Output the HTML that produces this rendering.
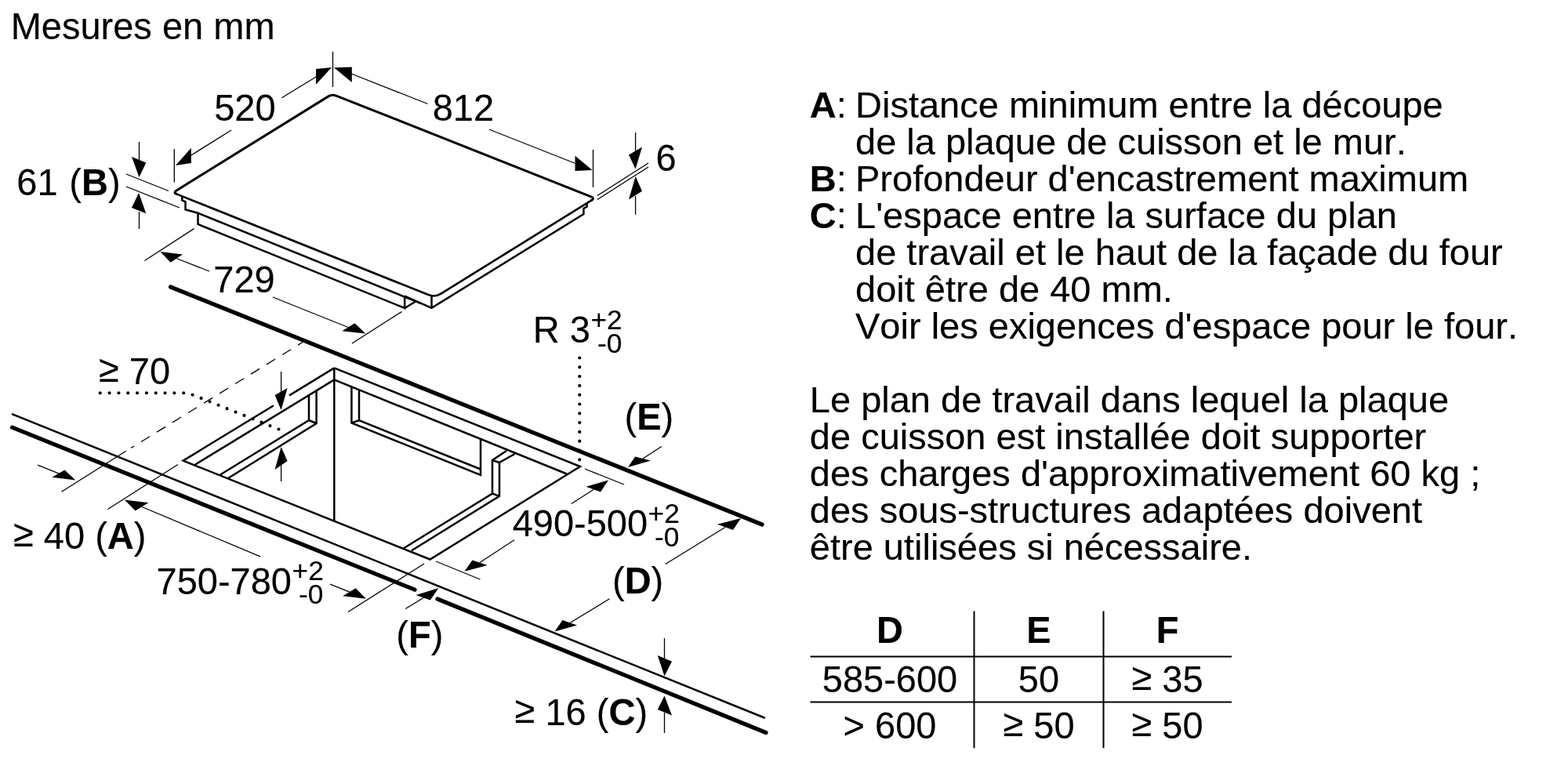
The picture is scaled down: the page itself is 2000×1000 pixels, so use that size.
<!DOCTYPE html>
<html lang="fr">
<head>
<meta charset="utf-8">
<title>Mesures en mm</title>
<style>
html,body{margin:0;padding:0;background:#fff;}
html{filter:grayscale(1);}
body{width:2000px;height:1000px;position:relative;overflow:hidden;font-family:"Liberation Sans",Arial,Helvetica,sans-serif;color:#000;font-kerning:none;}
svg{position:absolute;left:0;top:0;}
svg text{font-family:"Liberation Sans",Arial,Helvetica,sans-serif;fill:#000;stroke:#000;stroke-width:0.15px;font-kerning:none;}
.t{position:absolute;white-space:nowrap;margin:0;-webkit-text-stroke:0.15px #000;}
.t.c{width:400px;text-align:center;}
.t.v{transform:scaleY(1.03);transform-origin:50% 39.8px;}
table.dims,table.dims tbody,table.dims tr{display:block;margin:0;padding:0;border:0;}
table.dims th,table.dims td{display:block;padding:0;border:0;font-weight:normal;}
table.dims th{font-weight:bold;}
.ge{position:relative;top:-2.6px;}
</style>
</head>
<body>
<svg width="2000" height="1000" viewBox="0 0 2000 1000" stroke="#000" fill="none">
<path d="M 754.23,255.70 L 562.45,374.66 Q 554.80,379.40 546.44,376.06 L 225.53,247.63" stroke-width="2.6" fill="none" stroke-linecap="round"/>
<path d="M 225.53,247.63 Q 220.70,245.70 225.12,242.96 L 418.92,122.90 Q 423.60,120.00 428.71,122.03 L 753.79,250.77 Q 758.90,252.80 754.23,255.70" stroke-width="3.0" fill="none" stroke-linecap="round" stroke-linejoin="round"/>
<polyline points="232.3,250 232.3,255.5 236.5,257.3 236.5,267.3 252.5,271.8 252.5,286 516.2,393 516.2,377.5" stroke-width="2.5" stroke-linejoin="miter" stroke-linecap="butt" fill="none" />
<polyline points="252.5,271.8 536.5,386.9" stroke-width="2.5" stroke-linejoin="miter" stroke-linecap="butt" fill="none" />
<polyline points="516.2,377.7 550.5,392.9 744.4,273 744.4,266 748.6,263.5 748.6,259" stroke-width="2.5" stroke-linejoin="miter" stroke-linecap="butt" fill="none" />
<line x1="550.5" y1="377.3" x2="550.5" y2="393" stroke-width="2.5" stroke-linecap="butt" />
<line x1="516.2" y1="393" x2="531" y2="384" stroke-width="2.5" stroke-linecap="butt" />
<line x1="217.5" y1="366" x2="972" y2="669" stroke-width="5.2" stroke-linecap="round" />
<line x1="16" y1="528.3" x2="975" y2="915.5" stroke-width="2.5" stroke-linecap="round" />
<line x1="15.5" y1="545.2" x2="529" y2="752.2" stroke-width="5.2" stroke-linecap="round" />
<line x1="558" y1="764" x2="977" y2="934.5" stroke-width="5.2" stroke-linecap="round" />
<polyline points="426.3,469.4 369,504.4" stroke-width="2.5" stroke-linejoin="miter" stroke-linecap="butt" fill="none" />
<polyline points="349,517.2 233.6,587.6 548.5,713.5 740,595 426.3,469.4" stroke-width="2.5" stroke-linejoin="miter" stroke-linecap="butt" fill="none" />
<line x1="426.3" y1="469.4" x2="426.3" y2="664.5" stroke-width="2.5" stroke-linecap="butt" />
<polyline points="426.3,484.4 248,593.2" stroke-width="2.5" stroke-linejoin="miter" stroke-linecap="butt" fill="none" />
<polyline points="426.3,484.4 723,604.5" stroke-width="2.5" stroke-linejoin="miter" stroke-linecap="butt" fill="none" />
<polyline points="394,503.5 394,536 281,605.5" stroke-width="2.5" stroke-linejoin="miter" stroke-linecap="butt" fill="none" />
<polyline points="403.6,498 403.6,540 291,610" stroke-width="2.5" stroke-linejoin="miter" stroke-linecap="butt" fill="none" />
<line x1="394" y1="536" x2="403.6" y2="540" stroke-width="2.5" stroke-linecap="butt" />
<polyline points="448.4,493.5 448.4,539.4 613,606 613,560" stroke-width="2.5" stroke-linejoin="miter" stroke-linecap="butt" fill="none" />
<polyline points="458,497.5 458,536.2 613,598.5" stroke-width="2.5" stroke-linejoin="miter" stroke-linecap="butt" fill="none" />
<line x1="448.4" y1="539.4" x2="458" y2="536.2" stroke-width="2.5" stroke-linecap="butt" />
<polyline points="646,575 628,587 628,629.5 515,699.3" stroke-width="2.5" stroke-linejoin="miter" stroke-linecap="butt" fill="none" />
<polyline points="656.5,579 637,590 637,632.8 525,702.3" stroke-width="2.5" stroke-linejoin="miter" stroke-linecap="butt" fill="none" />
<line x1="628" y1="587" x2="637" y2="590" stroke-width="2.5" stroke-linecap="butt" />
<line x1="628" y1="629.5" x2="637" y2="632.8" stroke-width="2.5" stroke-linecap="butt" />
<line x1="424.5" y1="66" x2="424.5" y2="111" stroke-width="1.3" stroke-linecap="butt" />
<line x1="359.4" y1="124.8" x2="404" y2="97.5" stroke-width="1.3" stroke-linecap="butt" />
<polygon points="423,86 403,88 403,107.8" fill="#000" stroke="none"/>
<line x1="448" y1="94" x2="545.6" y2="132.5" stroke-width="1.3" stroke-linecap="butt" />
<polygon points="426,86.2 448.8,85.4 448.8,105" fill="#000" stroke="none"/>
<line x1="222.3" y1="190" x2="222.3" y2="232.5" stroke-width="1.3" stroke-linecap="butt" />
<line x1="295" y1="166" x2="243" y2="198.5" stroke-width="1.3" stroke-linecap="butt" />
<polygon points="224,211 243.8,188.8 243.8,208" fill="#000" stroke="none"/>
<line x1="756.5" y1="191" x2="756.5" y2="238.8" stroke-width="1.3" stroke-linecap="butt" />
<line x1="623.8" y1="165" x2="734" y2="208.5" stroke-width="1.3" stroke-linecap="butt" />
<polygon points="755.6,217 733.5,198.8 733.5,218" fill="#000" stroke="none"/>
<line x1="161" y1="222" x2="215" y2="243.5" stroke-width="1.3" stroke-linecap="butt" />
<line x1="161" y1="238" x2="229" y2="265" stroke-width="1.3" stroke-linecap="butt" />
<line x1="177.5" y1="181" x2="177.5" y2="205" stroke-width="1.3" stroke-linecap="butt" />
<polygon points="177.5,226 168,200 186.3,207.5" fill="#000" stroke="none"/>
<line x1="177.5" y1="270" x2="177.5" y2="292" stroke-width="1.3" stroke-linecap="butt" />
<polygon points="177,246 168,265 186.3,272.3" fill="#000" stroke="none"/>
<line x1="762" y1="249.4" x2="827" y2="208" stroke-width="1.3" stroke-linecap="butt" />
<line x1="762" y1="254.4" x2="827" y2="213" stroke-width="1.3" stroke-linecap="butt" />
<line x1="810.6" y1="169" x2="810.6" y2="193" stroke-width="1.3" stroke-linecap="butt" />
<polygon points="810.6,215.6 802,197.5 819,187.5" fill="#000" stroke="none"/>
<line x1="810.6" y1="250" x2="810.6" y2="273.8" stroke-width="1.3" stroke-linecap="butt" />
<polygon points="810.6,225 802,254.4 819,243.8" fill="#000" stroke="none"/>
<line x1="247.5" y1="291.6" x2="184.4" y2="332.5" stroke-width="1.3" stroke-linecap="butt" />
<line x1="512.5" y1="397.5" x2="449" y2="438" stroke-width="1.3" stroke-linecap="butt" />
<line x1="267" y1="346" x2="225" y2="329.5" stroke-width="1.3" stroke-linecap="butt" />
<polygon points="204.4,321 233,324.4 217.5,334.8" fill="#000" stroke="none"/>
<line x1="348" y1="379" x2="444" y2="417.5" stroke-width="1.3" stroke-linecap="butt" />
<polygon points="466.3,425.6 436.3,422.3 452.5,412.3" fill="#000" stroke="none"/>
<line x1="358.6" y1="474" x2="358.6" y2="500" stroke-width="1.3" stroke-linecap="butt" />
<polygon points="358.6,523 350.6,504 366.6,495" fill="#000" stroke="none"/>
<line x1="358.6" y1="593" x2="358.6" y2="614" stroke-width="1.3" stroke-linecap="butt" />
<polygon points="358.6,570 350.6,599 366.6,588" fill="#000" stroke="none"/>
<polyline points="127.75,501.25 239.8,501.25 356.5,547.9" fill="none" stroke-width="4.2" stroke-linecap="round" stroke-dasharray="0 11.83"/>
<line x1="739.3" y1="456.5" x2="739.3" y2="588" stroke-width="4.2" stroke-linecap="round" stroke-dasharray="0 11.8"/>
<line x1="386" y1="436.5" x2="167.2" y2="571.4" stroke-width="1.3" stroke-linecap="butt" stroke-dasharray="13 10.5" stroke-dashoffset="6"/>
<line x1="160.8" y1="575.3" x2="78.5" y2="627.3" stroke-width="1.3" stroke-linecap="butt" />
<line x1="226.9" y1="592.5" x2="137.5" y2="649.5" stroke-width="1.3" stroke-linecap="butt" />
<line x1="48.1" y1="593.1" x2="76" y2="604.3" stroke-width="1.3" stroke-linecap="butt" />
<polygon points="96.3,612.5 82.5,599.4 66.3,608.8" fill="#000" stroke="none"/>
<line x1="331.9" y1="709.8" x2="181" y2="646.5" stroke-width="1.3" stroke-linecap="butt" />
<polygon points="158.8,637.5 189.4,641.3 172.5,651.5" fill="#000" stroke="none"/>
<line x1="421" y1="745.2" x2="446" y2="755.2" stroke-width="1.3" stroke-linecap="butt" />
<polygon points="466.9,763.8 437.2,760.2 453.8,750.2" fill="#000" stroke="none"/>
<line x1="541" y1="719" x2="444" y2="780.5" stroke-width="1.3" stroke-linecap="butt" />
<line x1="746" y1="598" x2="796" y2="618" stroke-width="1.3" stroke-linecap="butt" />
<line x1="556" y1="716" x2="612.5" y2="739" stroke-width="1.3" stroke-linecap="butt" />
<line x1="728.8" y1="642.5" x2="757" y2="624.5" stroke-width="1.3" stroke-linecap="butt" />
<polygon points="776,612.5 747.5,620.8 766,627.5" fill="#000" stroke="none"/>
<line x1="656" y1="688.8" x2="612" y2="717.5" stroke-width="1.3" stroke-linecap="butt" />
<polygon points="592.5,728.8 602.5,714.5 621.8,721" fill="#000" stroke="none"/>
<line x1="843.8" y1="569.5" x2="820" y2="585" stroke-width="1.3" stroke-linecap="butt" />
<polygon points="801,596 810,582.5 830,587.5" fill="#000" stroke="none"/>
<line x1="848.8" y1="719.5" x2="925" y2="672.5" stroke-width="1.3" stroke-linecap="butt" />
<polygon points="945,661 915,668.8 935,676" fill="#000" stroke="none"/>
<line x1="777.5" y1="763.8" x2="727" y2="794.5" stroke-width="1.3" stroke-linecap="butt" />
<polygon points="707.5,805.5 717.5,791 736,797.5" fill="#000" stroke="none"/>
<line x1="517.2" y1="776.5" x2="541" y2="762" stroke-width="1.3" stroke-linecap="butt" />
<polygon points="559.4,750 530.6,759 548.8,765.6" fill="#000" stroke="none"/>
<line x1="847.5" y1="814" x2="847.5" y2="840" stroke-width="1.3" stroke-linecap="butt" />
<polygon points="847.5,862.5 838.8,836 857,843.8" fill="#000" stroke="none"/>
<line x1="847.5" y1="909" x2="847.5" y2="935" stroke-width="1.3" stroke-linecap="butt" />
<polygon points="847.5,887.5 838.8,905 857,912.5" fill="#000" stroke="none"/>
<text transform="translate(13.64,50.20) scale(1,1.02)" font-size="47" xml:space="preserve">Mesures en mm</text>
<text transform="translate(273.22,153.50) scale(1,1.03)" font-size="47.0" xml:space="preserve">520</text>
<text transform="translate(551.71,153.75) scale(1,1.03)" font-size="47.0" xml:space="preserve">812</text>
<text transform="translate(21.36,248.75) scale(1,1.03)" font-size="47.0" xml:space="preserve">61</text>
<text transform="translate(88.29,248.75) scale(1,1.03)" font-size="47.0" xml:space="preserve">(<tspan font-weight="bold">B</tspan>)</text>
<text transform="translate(836.51,218.30) scale(1,1.03)" font-size="47.0" xml:space="preserve">6</text>
<text transform="translate(272.34,373.10) scale(1,1.03)" font-size="47.0" xml:space="preserve">729</text>
<text transform="translate(126.01,490.00) scale(1,1.03)" font-size="47.0" xml:space="preserve"><tspan dy="-2.52">≥</tspan><tspan dy="2.52"> 70</tspan></text>
<text transform="translate(679.64,437.00) scale(1,1.03)" font-size="47.0" xml:space="preserve">R 3</text>
<text transform="translate(793.67,419.70) scale(1,1.0)" font-size="35.25" text-anchor="end">+2</text>
<text transform="translate(793.28,449.60) scale(1,1.0)" font-size="35.25" text-anchor="end">-0</text>
<text transform="translate(796.49,547.75) scale(1,1.03)" font-size="47.0" xml:space="preserve">(<tspan font-weight="bold">E</tspan>)</text>
<text transform="translate(653.67,683.75) scale(1,1.03)" font-size="47.0" xml:space="preserve">490-500</text>
<text transform="translate(866.77,666.90) scale(1,1.0)" font-size="35.25" text-anchor="end">+2</text>
<text transform="translate(866.38,697.00) scale(1,1.0)" font-size="35.25" text-anchor="end">-0</text>
<text transform="translate(780.99,756.90) scale(1,1.03)" font-size="47.0" xml:space="preserve">(<tspan font-weight="bold">D</tspan>)</text>
<text transform="translate(199.49,758.10) scale(1,1.03)" font-size="47.0" xml:space="preserve">750-780</text>
<text transform="translate(412.77,740.40) scale(1,1.0)" font-size="35.25" text-anchor="end">+2</text>
<text transform="translate(412.38,770.10) scale(1,1.0)" font-size="35.25" text-anchor="end">-0</text>
<text transform="translate(17.01,700.00) scale(1,1.03)" font-size="47.0" xml:space="preserve"><tspan dy="-2.52">≥</tspan><tspan dy="2.52"> 40 (</tspan><tspan font-weight="bold">A</tspan>)</text>
<text transform="translate(505.29,826.25) scale(1,1.03)" font-size="47.0" xml:space="preserve">(<tspan font-weight="bold">F</tspan>)</text>
<text transform="translate(656.61,925.00) scale(1,1.03)" font-size="47.0" xml:space="preserve"><tspan dy="-2.52">≥</tspan><tspan dy="2.52"> 16 (</tspan><tspan font-weight="bold">C</tspan>)</text>
<line x1="1033.5" y1="837.4" x2="1571" y2="837.4" stroke-width="2.0" stroke-linecap="butt" />
<line x1="1033.5" y1="895.4" x2="1571" y2="895.4" stroke-width="2.0" stroke-linecap="butt" />
<line x1="1242.5" y1="779.5" x2="1242.5" y2="954.2" stroke-width="2.0" stroke-linecap="butt" />
<line x1="1407.5" y1="779.5" x2="1407.5" y2="954.2" stroke-width="2.0" stroke-linecap="butt" />
</svg>
<section class="legend">
<div class="t" style="left:1032.8px;top:110.21px;font-size:47.0px;line-height:47.0px"><b>A</b>:</div>
<div class="t" style="left:1091.0px;top:110.21px;font-size:47.0px;line-height:47.0px">Distance minimum entre la découpe</div>
<div class="t" style="left:1091.0px;top:157.21px;font-size:47.0px;line-height:47.0px">de la plaque de cuisson et le mur.</div>
<div class="t" style="left:1032.8px;top:204.21px;font-size:47.0px;line-height:47.0px"><b>B</b>:</div>
<div class="t" style="left:1091.0px;top:204.21px;font-size:47.0px;line-height:47.0px">Profondeur d'encastrement maximum</div>
<div class="t" style="left:1032.8px;top:251.21px;font-size:47.0px;line-height:47.0px"><b>C</b>:</div>
<div class="t" style="left:1091.0px;top:251.21px;font-size:47.0px;line-height:47.0px">L'espace entre la surface du plan</div>
<div class="t" style="left:1091.0px;top:298.21px;font-size:47.0px;line-height:47.0px">de travail et le haut de la façade du four</div>
<div class="t" style="left:1091.0px;top:345.21px;font-size:47.0px;line-height:47.0px">doit être de 40 mm.</div>
<div class="t" style="left:1091.0px;top:392.21px;font-size:47.0px;line-height:47.0px">Voir les exigences d'espace pour le four.</div>
<div class="t" style="left:1032.8px;top:486.21px;font-size:47.0px;line-height:47.0px">Le plan de travail dans lequel la plaque</div>
<div class="t" style="left:1032.8px;top:533.21px;font-size:47.0px;line-height:47.0px">de cuisson est installée doit supporter</div>
<div class="t" style="left:1032.8px;top:580.21px;font-size:47.0px;line-height:47.0px">des charges d'approximativement 60 kg ;</div>
<div class="t" style="left:1032.8px;top:627.21px;font-size:47.0px;line-height:47.0px">des sous-structures adaptées doivent</div>
<div class="t" style="left:1032.8px;top:674.21px;font-size:47.0px;line-height:47.0px">être utilisées si nécessaire.</div>
</section>
<section class="table">
<table class="dims"><tbody>
<tr><th class="t c v" style="left:935px;top:780.21px;font-size:47.0px;line-height:47.0px">D</th><th class="t c v" style="left:1125px;top:780.21px;font-size:47.0px;line-height:47.0px">E</th><th class="t c v" style="left:1289px;top:780.21px;font-size:47.0px;line-height:47.0px">F</th></tr>
<tr><td class="t c v" style="left:935px;top:843.21px;font-size:47.0px;line-height:47.0px">585-600</td><td class="t c v" style="left:1125px;top:843.21px;font-size:47.0px;line-height:47.0px">50</td><td class="t c v" style="left:1289px;top:843.21px;font-size:47.0px;line-height:47.0px"><span class="ge">≥</span> 35</td></tr>
<tr><td class="t c v" style="left:935px;top:901.51px;font-size:47.0px;line-height:47.0px">&gt; 600</td><td class="t c v" style="left:1125px;top:901.51px;font-size:47.0px;line-height:47.0px"><span class="ge">≥</span> 50</td><td class="t c v" style="left:1289px;top:901.51px;font-size:47.0px;line-height:47.0px"><span class="ge">≥</span> 50</td></tr>
</tbody></table>
</section>
</body>
</html>
